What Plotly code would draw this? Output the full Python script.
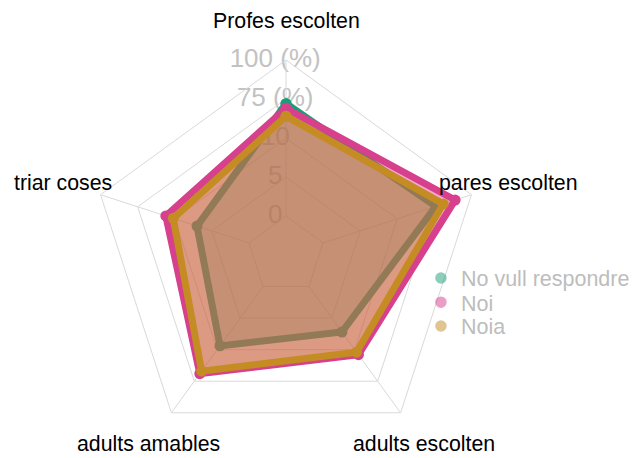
import math
import plotly.graph_objects as go

categories = ["Profes escolten", "pares escolten", "adults escolten", "adults amables", "triar coses"]
series_names = ["No vull respondre", "Noi", "Noia"]
no_vull = [72, 76, 36, 47, 35]
noi = [69, 89, 54, 69, 56]
noia = [64, 81, 52, 67, 51]
radial_tickvals = [0, 25, 50, 75, 100]
radial_ticktext = ["0", "5", "10", "75 (%)", "100 (%)"]
radial_range = [-25, 100]
label_r = 125

series_values = [no_vull, noi, noia]
line_colors = ["#1b9e77", "#d6408c", "#c48c23"]
fill_colors = ["rgba(27,158,119,0.30)", "rgba(231,41,138,0.40)", "rgba(190,135,35,0.45)"]

FONT = "Liberation Sans, Arial, sans-serif"
GRID = "#d9d9d9"
PAD = "\u00a0\u00a0\u00a0"
FULL = dict(x=[0, 1], y=[0, 1])

fig = go.Figure()

# radial tick labels, in a bottom subplot (hole = the 0 ring) so the fills sit over them
tick_hole = -radial_range[0] / (radial_range[1] - radial_range[0])
fig.add_trace(go.Scatterpolar(
    r=[v if v > 0 else 1e-6 for v in radial_tickvals],
    theta=[categories[0]] * len(radial_tickvals), mode="text",
    text=[t + PAD for t in radial_ticktext], textposition="middle center",
    textfont=dict(size=26, color="#c2c2c2", family=FONT),
    showlegend=False, cliponaxis=False, hoverinfo="skip", subplot="polar",
))

# spokes from the 0 ring to the outer ring
spoke_r, spoke_t = [], []
for c in categories:
    spoke_r += [radial_tickvals[0], radial_tickvals[-1], None]
    spoke_t += [c, c, None]
fig.add_trace(go.Scatterpolar(
    r=spoke_r, theta=spoke_t, mode="lines", line=dict(color=GRID, width=1),
    showlegend=False, hoverinfo="skip", connectgaps=False, subplot="polar2",
))

for name, vals, lc, fc in zip(series_names, series_values, line_colors, fill_colors):
    fig.add_trace(go.Scatterpolar(
        r=vals + [vals[0]], theta=categories + [categories[0]],
        mode="lines+markers", fill="toself", fillcolor=fc,
        line=dict(color=lc, width=7), marker=dict(size=11, color=lc),
        name=name, showlegend=False, cliponaxis=False, subplot="polar2",
    ))

# legend entries, one small legend each
legend_names = ["legend", "legend2", "legend3"]
legend_y = [0.441, 0.379, 0.318]
for name, lc, lg in zip(series_names, line_colors, legend_names):
    fig.add_trace(go.Scatterpolar(
        r=[None], theta=[categories[0]], mode="markers", name=name, legend=lg,
        marker=dict(size=10, color=lc, opacity=0.5, line=dict(color=lc, width=1.5)),
        showlegend=True, subplot="polar2",
    ))

# category labels around the chart
span = radial_range[1] - radial_range[0]
frac = (label_r - radial_range[0]) / span * 0.5
annotations = []
for i, c in enumerate(categories):
    a = math.radians(90 - 360 * i / len(categories))
    annotations.append(dict(
        text=c, xref="paper", yref="paper",
        x=0.5 + frac * math.cos(a), y=0.5 + frac * math.sin(a),
        xanchor="center", yanchor="middle", showarrow=False,
        font=dict(size=21.3, color="black", family=FONT),
    ))

legend_layout = {}
for lg, y in zip(legend_names, legend_y):
    legend_layout[lg] = dict(x=0.846, y=y, xanchor="left", yanchor="middle",
                             font=dict(size=21.5, color="#bdbdbd", family=FONT),
                             bgcolor="rgba(0,0,0,0)")

hidden_radial = dict(showticklabels=False, showline=False, showgrid=False, ticks="")
fig.update_layout(
    width=629, height=450,
    margin=dict(l=83, r=156, t=52, b=8, autoexpand=False),
    paper_bgcolor="white",
    font=dict(family=FONT),
    showlegend=True,
    annotations=annotations,
    polar=dict(
        domain=FULL, gridshape="circular", bgcolor="white", hole=tick_hole,
        radialaxis=dict(range=[0, radial_range[1]], angle=90, **hidden_radial),
        angularaxis=dict(direction="clockwise", rotation=90, showticklabels=False,
                         showgrid=False, showline=False, ticks=""),
    ),
    polar2=dict(
        domain=FULL, gridshape="linear", bgcolor="rgba(0,0,0,0)",
        radialaxis=dict(range=radial_range, tickvals=radial_tickvals, ticktext=radial_ticktext,
                        showticklabels=False, angle=90, showline=False, gridcolor=GRID,
                        layer="below traces", ticks=""),
        angularaxis=dict(direction="clockwise", rotation=90, showticklabels=False,
                         showgrid=False, showline=True, linecolor=GRID,
                         layer="below traces", ticks="",
                         categoryorder="array", categoryarray=categories),
    ),
    **legend_layout,
)

fig.write_html("out.html")
